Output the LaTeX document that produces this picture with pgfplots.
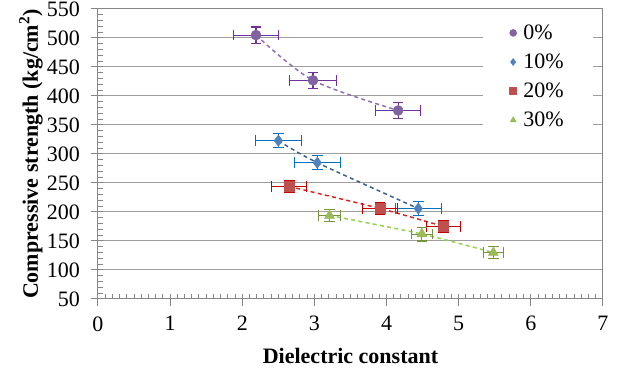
\documentclass[border=0pt]{standalone}
\usepackage{pgfplots}
\pgfplotsset{compat=1.18}
\usepackage{pgfplotstable}
\usepackage{fontspec}
\setmainfont{Liberation Serif}
\definecolor{cP}{HTML}{8064A2}
\definecolor{cB}{HTML}{4F81BD}
\definecolor{cR}{HTML}{C0504D}
\definecolor{cG}{HTML}{9BBB59}
\definecolor{eP}{HTML}{7030A0}
\definecolor{eB}{HTML}{0070C0}
\definecolor{eR}{HTML}{C00000}
\definecolor{eG}{HTML}{77933C}
\definecolor{tP}{HTML}{8E6CB8}
\definecolor{tB}{HTML}{376092}
\definecolor{tR}{HTML}{E02020}
\definecolor{tG}{HTML}{92D050}
\definecolor{axg}{HTML}{868686}

\pgfplotstableread{
x y ex ey
2.19 505 0.31 14
2.98 427 0.32 14
4.16 375 0.31 14
}\dataP
\pgfplotstableread{
x y ex ey
2.50 323 0.32 12
3.04 285 0.32 12
4.44 206 0.32 12
}\dataB
\pgfplotstableread{
x y ex ey
2.65 244 0.24 10
3.91 206 0.24 10
4.79 175 0.23 10
}\dataR
\pgfplotstableread{
x y ex ey
3.21 194 0.15 10
4.49 162 0.15 12
5.48 130 0.14 10
}\dataG

\begin{document}
\begin{tikzpicture}
\useasboundingbox (-73.5pt,-54pt) rectangle (390.75pt,224.25pt);
\begin{axis}[
  scale only axis,
  width=378.75pt, height=217.5pt,
  xmin=0, xmax=7, ymin=50, ymax=550,
  xtick={0,1,...,7},
  ytick={50,100,...,550},
  minor x tick num=9,
  minor y tick num=4,
  tick pos=left,
  tick align=inside,
  major tick length=4pt,
  minor tick length=3.5pt,
  every tick/.style={axg, line width=0.75pt},
  axis line style={axg, line width=0.75pt},
  ymajorgrids,
  major grid style={axg!80, line width=0.75pt},
  extra x ticks={0,1,...,7},
  extra x tick labels={},
  extra y ticks={50,100,...,550},
  extra y tick labels={},
  extra tick style={tick align=outside, major tick length=5.5pt, grid=none},
  /pgf/number format/assume math mode=true,
  ticklabel style={font=\fontsize{16.5}{18}\selectfont},
  yticklabel style={xshift=-10pt},
  xticklabel style={yshift=-9.5pt},
  xlabel={\textbf{Dielectric constant}},
  ylabel={\textbf{Compressive strength (kg/cm\textsuperscript{2})}},
  label style={font=\fontsize{16.5}{18}\selectfont},
  xlabel style={at={(axis description cs:0.5,0)}, anchor=center, yshift=-42.75pt},
  ylabel style={at={(axis description cs:-0.1327,0.5)}, anchor=center, rotate=0},
  legend style={at={(rel axis cs:0.762,1)}, anchor=north west, draw=none, fill=white,
    font=\fontsize{16.5}{18}\selectfont, inner xsep=20pt, inner ysep=9.5pt, row sep=5.35pt,
    /tikz/every odd column/.append style={column sep=3pt}},
  legend cell align=left,
  legend image code/.code={\draw[#1] plot coordinates {(0.15cm,0cm)};},
  every legend image post/.style={mark size=2.6pt},
]
% trend lines
\addplot[forget plot, smooth, tP, line width=1.1pt, dash pattern=on 3pt off 2.5pt] table[x=x,y=y] {\dataP};
\addplot[forget plot, smooth, tB, line width=1.1pt, dash pattern=on 3pt off 2.5pt] table[x=x,y=y] {\dataB};
\addplot[forget plot, smooth, tR, line width=1.1pt, dash pattern=on 3pt off 2.5pt] table[x=x,y=y] {\dataR};
\addplot[forget plot, smooth, tG, line width=1.1pt, dash pattern=on 3pt off 2.5pt] table[x=x,y=y] {\dataG};
% data
\addplot[only marks, mark=*, mark size=3.75pt, mark options={draw=cP, fill=cP},
  error bars/.cd, x dir=both, x explicit, y dir=both, y explicit, error mark=|,
  error bar style={eP, line width=0.8pt}, error mark options={eP, line width=0.8pt, mark size=4pt}]
  table[x=x,y=y,x error=ex,y error=ey] {\dataP};
\addlegendentry{0\%}
\addplot[only marks, mark=diamond*, mark size=4.2pt, mark options={draw=cB, fill=cB},
  error bars/.cd, x dir=both, x explicit, y dir=both, y explicit, error mark=|,
  error bar style={eB, line width=0.8pt}, error mark options={eB, line width=0.8pt, mark size=4pt}]
  table[x=x,y=y,x error=ex,y error=ey] {\dataB};
\addlegendentry{10\%}
\addplot[only marks, mark=square*, mark size=3.6pt, mark options={draw=cR, fill=cR},
  error bars/.cd, x dir=both, x explicit, y dir=both, y explicit, error mark=|,
  error bar style={eR, line width=0.8pt}, error mark options={eR, line width=0.8pt, mark size=4pt}]
  table[x=x,y=y,x error=ex,y error=ey] {\dataR};
\addlegendentry{20\%}
\addplot[only marks, mark=triangle*, mark size=4.3pt, mark options={draw=cG, fill=cG},
  error bars/.cd, x dir=both, x explicit, y dir=both, y explicit, error mark=|,
  error bar style={eG, line width=0.8pt}, error mark options={eG, line width=0.8pt, mark size=4pt}]
  table[x=x,y=y,x error=ex,y error=ey] {\dataG};
\addlegendentry{30\%}
\end{axis}
\end{tikzpicture}
\end{document}
